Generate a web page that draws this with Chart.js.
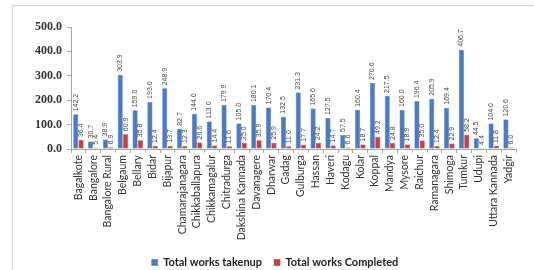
<!DOCTYPE html>
<html>
<head>
<meta charset="utf-8">
<script src="https://cdn.jsdelivr.net/npm/chart.js@4/dist/chart.umd.min.js"></script>
<style>
  html, body { margin: 0; padding: 0; background: #fff; }
  #wrap { position: relative; width: 534px; height: 270px; overflow: hidden; }
  #frame { position: absolute; left: 12px; top: 5px; width: 600px; height: 300px; border: 1.5px solid #d4d4d4; }
  #chart { position: absolute; left: 0; top: 0; }
</style>
</head>
<body>
<div id="wrap">
  <div id="frame"></div>
  <canvas id="chart" width="534" height="278"></canvas>
</div>
<script>
const districts = [
  "Bagalkote", "Bangalore", "Bangalore Rural", "Belgaum", "Bellary", "Bidar",
  "Bijapur", "Chamarajanagara", "Chikkaballapura", "Chikkamagalur", "Chitradurga",
  "Dakshina Kannada", "Davanagere", "Dharwar", "Gadag", "Gulburga", "Hassan",
  "Haveri", "Kodagu", "Kolar", "Koppal", "Mandya", "Mysore", "Raichur",
  "Ramanagara", "Shimoga", "Tumkur", "Udupi", "Uttara Kannada", "Yadgir"
];
const worksTakenup = [
  142.2, 30.7, 38.9, 303.9, 159.0, 193.0, 248.9, 82.7, 144.0, 113.0, 179.9,
  105.0, 180.1, 170.4, 132.5, 231.3, 165.6, 127.5, 57.5, 160.4, 270.6, 217.5,
  160.0, 196.4, 205.9, 169.4, 406.7, 44.5, 104.0, 120.6
];
const worksCompleted = [
  36.4, 5.4, 6.9, 60.9, 35.8, 12.4, 13.7, 12.3, 26.6, 14.4, 11.6,
  25.0, 35.9, 25.9, 11.0, 17.7, 24.2, 14.7, 6.6, 18.7, 49.2, 24.8,
  18.9, 35.0, 12.4, 22.9, 58.2, 4.4, 11.8, 6.0
];
const yTicks = [0, 100, 200, 300, 400, 500];

// value above each bar, written upwards like the Excel original
const valueLabels = {
  id: "valueLabels",
  afterDatasetsDraw(chart) {
    const ctx = chart.ctx;
    ctx.save();
    ctx.font = "7px 'Liberation Sans', sans-serif";
    ctx.fillStyle = "#444";
    ctx.textAlign = "left";
    ctx.textBaseline = "middle";
    chart.data.datasets.forEach((ds, i) => {
      chart.getDatasetMeta(i).data.forEach((bar, j) => {
        ctx.save();
        ctx.translate(bar.x, bar.y - 3);
        ctx.rotate(-Math.PI / 2);
        ctx.fillText(ds.data[j].toFixed(1), 0, 0);
        ctx.restore();
      });
    });
    ctx.restore();
  }
};

new Chart(document.getElementById("chart"), {
  type: "bar",
  data: {
    labels: districts,
    datasets: [
      {
        label: "Total works takenup",
        data: worksTakenup,
        backgroundColor: "#4a7bc4",
        borderColor: "#3d6aae",
        borderWidth: 0.5,
        categoryPercentage: 0.72,
        barPercentage: 0.95,
      },
      {
        label: "Total works Completed",
        data: worksCompleted,
        backgroundColor: "#c9403c",
        borderColor: "#a83330",
        borderWidth: 0.5,
        categoryPercentage: 0.72,
        barPercentage: 0.95,
      },
    ],
  },
  options: {
    responsive: false,
    animation: false,
    layout: { padding: { left: 34, right: 18, top: 27, bottom: 0 } },
    scales: {
      x: {
        grid: { display: true, drawOnChartArea: false, offset: true, tickLength: 4, color: "#a6a6a6" },
        border: { color: "#a6a6a6" },
        ticks: {
          autoSkip: false,
          minRotation: 90,
          maxRotation: 90,
          padding: 2,
          color: "#333",
          font: { family: "Lato, 'Open Sans', sans-serif", size: 10.5 },
        },
        afterFit: (scale) => { scale.height = 96; },
      },
      y: {
        min: 0,
        max: 500,
        afterBuildTicks: (scale) => { scale.ticks = yTicks.map((v) => ({ value: v })); },
        grid: { display: true, drawOnChartArea: false, tickLength: 4, color: "#a6a6a6" },
        border: { color: "#a6a6a6" },
        ticks: {
          padding: 5,
          color: "#333",
          font: { family: "'Liberation Serif', serif", size: 12, weight: "bold" },
          callback: (v) => v.toFixed(1),
        },
        afterFit: (scale) => { scale.width = 37; },
      },
    },
    plugins: {
      legend: {
        position: "bottom",
        labels: {
          boxWidth: 6,
          boxHeight: 6,
          padding: 12,
          color: "#222",
          font: { family: "Lato, 'Open Sans', sans-serif", size: 11, weight: "bold" },
        },
      },
      tooltip: { enabled: false },
    },
  },
  plugins: [valueLabels],
});
</script>
</body>
</html>
